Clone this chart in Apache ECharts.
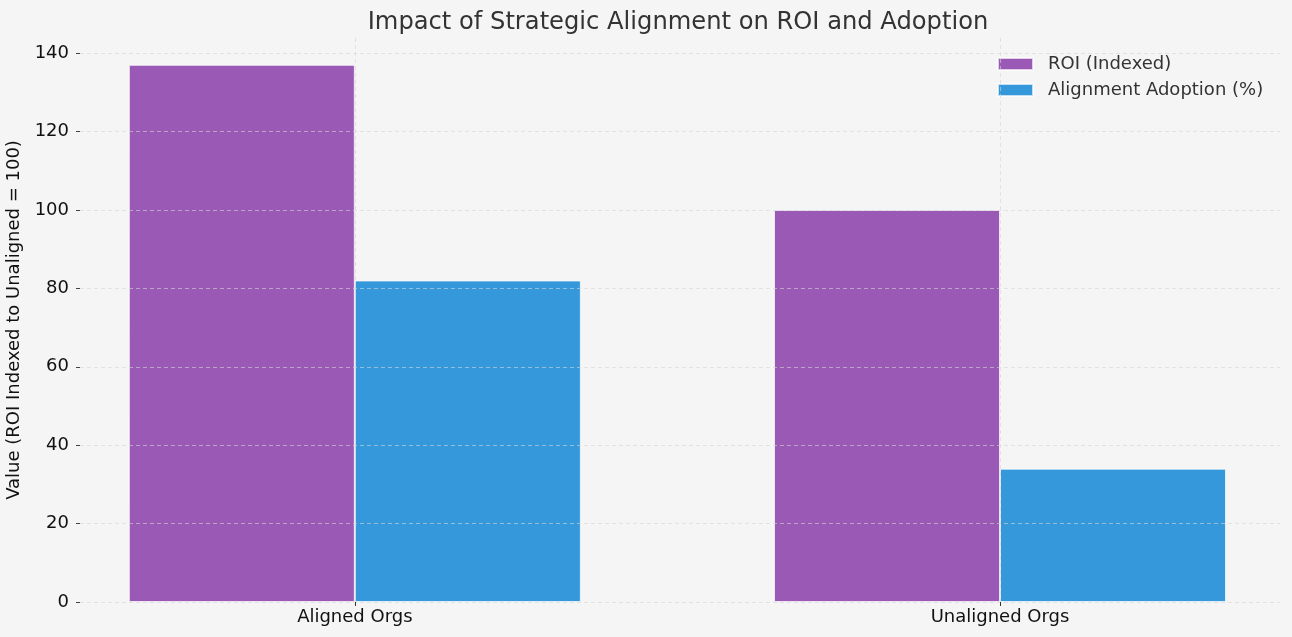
<!DOCTYPE html>
<html>
<head>
<meta charset="utf-8">
<script src="https://cdn.jsdelivr.net/npm/echarts@6/dist/echarts.min.js"></script>
<style>
html,body{margin:0;padding:0;background:#f5f5f5;}
#chart{width:1292px;height:637px;}
</style>
</head>
<body>
<div id="chart"></div>
<script>
const categories = ['Aligned Orgs', 'Unaligned Orgs'];
const roiIndexed = [137, 100];
const alignmentAdoption = [82, 34];
const yTicks = [0, 20, 40, 60, 80, 100, 120, 140];

const FONT = 'DejaVu Sans';
const chart = echarts.init(document.getElementById('chart'), null, {renderer: 'canvas'});
const catIdx = categories.map((c, i) => i);

const option = {
  backgroundColor: '#f5f5f5',
  animation: false,
  textStyle: {fontFamily: FONT},
  title: {
    text: 'Impact of Strategic Alignment on ROI and Adoption',
    left: 673, top: 6, textAlign: 'center',
    textStyle: {fontFamily: FONT, fontSize: 24.2, fontWeight: 'normal', color: '#333'}
  },
  legend: {
    orient: 'vertical', left: 997, top: 55, padding: 0,
    itemWidth: 35, itemHeight: 12, itemGap: 8,
    icon: 'rect',
    textStyle: {fontFamily: FONT, fontSize: 18, color: '#333', padding: [0, 0, 0, 10]},
    data: ['ROI (Indexed)', 'Alignment Adoption (%)']
  },
  grid: {left: 80, right: 12, top: 38, bottom: 35, containLabel: false, outerBoundsMode: 'none'},
  xAxis: {
    type: 'value', min: -0.426, max: 1.434, z: 10,
    axisLine: {show: false, onZero: false},
    axisTick: {show: true, customValues: catIdx, length: 4, lineStyle: {color: '#333'}},
    axisLabel: {customValues: catIdx, formatter: v => categories[Math.round(v)] || '', fontFamily: FONT, fontSize: 18, color: '#111', margin: 6},
    splitLine: {show: true, lineStyle: {type: [4, 3], color: '#d6d6d6', opacity: 0.6, width: 1}}
  },
  yAxis: {
    type: 'value', min: 0, max: 143.85, z: 10,
    name: 'Value (ROI Indexed to Unaligned = 100)',
    nameLocation: 'middle', nameGap: 50, nameRotate: 90,
    nameTextStyle: {fontFamily: FONT, fontSize: 18, color: '#111'},
    axisLine: {show: false, onZero: false},
    axisTick: {show: true, customValues: yTicks, length: 4, lineStyle: {color: '#444'}},
    axisLabel: {customValues: yTicks, fontFamily: FONT, fontSize: 18, color: '#111', margin: 11},
    splitLine: {show: true, lineStyle: {type: [4, 3], color: '#d6d6d6', opacity: 0.6, width: 1}}
  },
  series: [
    {
      name: 'ROI (Indexed)', type: 'bar', barWidth: 226, barGap: '0%',
      itemStyle: {color: '#9b59b6', borderColor: 'rgba(255,255,255,0.7)', borderWidth: 1},
      data: roiIndexed.map((v, i) => [i, v])
    },
    {
      name: 'Alignment Adoption (%)', type: 'bar', barWidth: 226, barGap: '0%',
      itemStyle: {color: '#3498db', borderColor: 'rgba(255,255,255,0.7)', borderWidth: 1},
      data: alignmentAdoption.map((v, i) => [i, v])
    }
  ]
};
chart.setOption(option);
</script>
</body>
</html>
